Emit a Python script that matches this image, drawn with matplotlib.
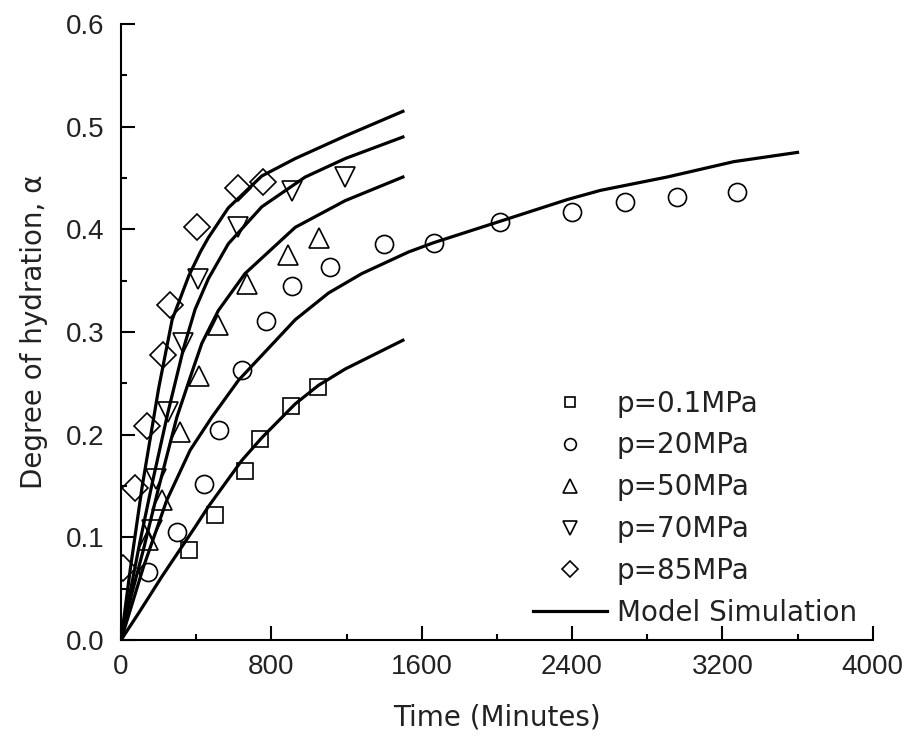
import numpy as np
import matplotlib
matplotlib.use("Agg")
import matplotlib.pyplot as plt
from matplotlib.ticker import MultipleLocator, FormatStrFormatter

# measured points (time in minutes, degree of hydration)
t_01 = [364, 500, 662, 740, 907, 1046]
a_01 = [0.088, 0.122, 0.165, 0.196, 0.228, 0.246]

t_20 = [145, 300, 442, 524, 646, 772, 909, 1113, 1401, 1667, 2019, 2402, 2681, 2960, 3277]
a_20 = [0.066, 0.105, 0.152, 0.205, 0.263, 0.311, 0.345, 0.363, 0.386, 0.387, 0.407, 0.417, 0.427, 0.432, 0.436]

t_50 = [144, 218, 314, 415, 518, 670, 886, 1055]
a_50 = [0.097, 0.136, 0.203, 0.257, 0.307, 0.347, 0.375, 0.392]

t_70 = [165, 186, 252, 332, 412, 625, 909, 1193]
a_70 = [0.107, 0.157, 0.222, 0.289, 0.352, 0.402, 0.437, 0.451]

t_85 = [10, 75, 137, 225, 261, 403, 625, 758]
a_85 = [0.070, 0.148, 0.208, 0.278, 0.326, 0.402, 0.440, 0.446]

# model simulation curves
m_t_01 = [0, 100, 218, 394, 465, 643, 749, 927, 1050, 1193, 1500]
m_a_01 = [0, 0.028, 0.062, 0.110, 0.130, 0.175, 0.197, 0.230, 0.248, 0.264, 0.292]

m_t_20 = [0, 119, 243, 368, 483, 625, 927, 1104, 1282, 1530, 1663, 2019, 2374, 2551, 2906, 3261, 3600]
m_a_20 = [0, 0.071, 0.136, 0.185, 0.217, 0.253, 0.312, 0.338, 0.357, 0.378, 0.387, 0.408, 0.429, 0.438, 0.451, 0.466, 0.475]

m_t_50 = [0, 50, 119, 201, 297, 385, 430, 518, 660, 927, 1193, 1500]
m_a_50 = [0, 0.040, 0.088, 0.149, 0.217, 0.265, 0.289, 0.321, 0.357, 0.402, 0.428, 0.451]

m_t_70 = [0, 50, 100, 165, 250, 334, 394, 465, 571, 749, 980, 1193, 1500]
m_a_70 = [0, 0.048, 0.095, 0.152, 0.222, 0.285, 0.322, 0.352, 0.386, 0.422, 0.451, 0.469, 0.490]

m_t_85 = [0, 50, 112, 200, 272, 361, 422, 465, 571, 749, 927, 1193, 1500]
m_a_85 = [0, 0.070, 0.149, 0.245, 0.312, 0.355, 0.378, 0.392, 0.421, 0.452, 0.469, 0.491, 0.515]

plt.rcParams['font.family'] = ['DejaVu Sans']

fig = plt.figure(figsize=(9.1, 7.43), dpi=100)
ax = fig.add_axes([0.133, 0.1386, 0.826, 0.829])

mk = dict(linestyle='none', markerfacecolor='none', markeredgecolor='black', markeredgewidth=1.2)
ax.plot(t_01, a_01, marker='s', markersize=12, label='p=0.1MPa', **mk)
ax.plot(t_20, a_20, marker='o', markersize=13, label='p=20MPa', **mk)
ax.plot(t_50, a_50, marker='^', markersize=15, label='p=50MPa', **mk)
ax.plot(t_70, a_70, marker='v', markersize=15, label='p=70MPa', **mk)
ax.plot(t_85, a_85, marker='D', markersize=13, label='p=85MPa', **mk)

ax.plot(m_t_01, m_a_01, color='black', lw=2.3, label='Model Simulation')
for tt, aa in [(m_t_20, m_a_20), (m_t_50, m_a_50), (m_t_70, m_a_70), (m_t_85, m_a_85)]:
    ax.plot(tt, aa, color='black', lw=2.3)

ax.set_xlim(0, 4000)
ax.set_ylim(0, 0.6)
ax.xaxis.set_major_locator(MultipleLocator(800))
ax.xaxis.set_minor_locator(MultipleLocator(400))
ax.yaxis.set_major_locator(MultipleLocator(0.1))
ax.yaxis.set_minor_locator(MultipleLocator(0.05))
ax.yaxis.set_major_formatter(FormatStrFormatter('%.1f'))
ax.spines['top'].set_visible(False)
ax.spines['right'].set_visible(False)
ax.spines['left'].set_linewidth(1.5)
ax.spines['bottom'].set_linewidth(1.5)
ax.tick_params(which='major', direction='in', length=10, width=1.5)
ax.tick_params(which='minor', direction='in', length=4, width=1.5)
ax.tick_params(axis='x', pad=10)
ax.tick_params(axis='y', pad=12)
for lab in ax.get_xticklabels() + ax.get_yticklabels():
    lab.set_fontfamily('Liberation Sans')
    lab.set_fontsize(20)
    lab.set_color('#222222')

ax.set_xlabel('Time (Minutes)', fontsize=20, labelpad=17, color='#222222')
ax.set_ylabel('Degree of hydration, α', fontsize=20, labelpad=13, color='#222222')

leg = ax.legend(loc='lower left', bbox_to_anchor=(533 / 910, 116 / 743), bbox_transform=fig.transFigure,
                frameon=False, fontsize=20, borderpad=0, borderaxespad=0,
                markerscale=0.65, handlelength=2.66, labelspacing=0.5, handletextpad=0.36)
for txt in leg.get_texts():
    txt.set_color('#222222')

fig.savefig('out.png', dpi=100)
